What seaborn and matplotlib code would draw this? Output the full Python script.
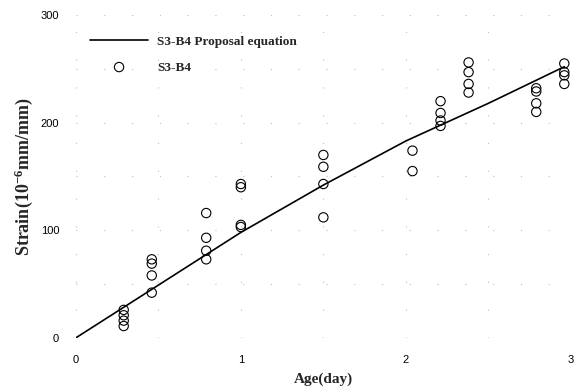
import matplotlib
matplotlib.use("Agg")
import matplotlib.pyplot as plt
import seaborn as sns
import pandas as pd

# Proposal equation curve
eq_age = [0.0, 0.5, 1.0, 1.5, 2.0, 2.5, 2.96]
eq_strain = [0, 49, 98, 142, 183, 218, 252]

# Measured S3-B4 data
obs_age = [0.29, 0.29, 0.29, 0.29,
           0.46, 0.46, 0.46, 0.46,
           0.79, 0.79, 0.79, 0.79,
           1.0, 1.0, 1.0, 1.0,
           1.5, 1.5, 1.5, 1.5,
           2.04, 2.04,
           2.21, 2.21, 2.21, 2.21,
           2.38, 2.38, 2.38, 2.38,
           2.79, 2.79, 2.79, 2.79,
           2.96, 2.96, 2.96, 2.96]
obs_strain = [26, 21, 16, 11,
              73, 69, 58, 42,
              116, 93, 81, 73,
              143, 140, 105, 103,
              170, 159, 143, 112,
              174, 155,
              220, 209, 202, 197,
              256, 247, 236, 228,
              232, 229, 218, 210,
              255, 247, 244, 236]

x_ticks = [0, 1, 2, 3]
y_ticks = [0, 100, 200, 300]

sns.set_theme(style="white")
plt.rcParams["font.family"] = ["Liberation Sans", "DejaVu Sans"]
plt.rcParams["mathtext.fontset"] = "custom"
plt.rcParams["mathtext.rm"] = "Liberation Serif:bold"
plt.rcParams["mathtext.it"] = "Liberation Serif:bold"
plt.rcParams["mathtext.bf"] = "Liberation Serif:bold"

fig = plt.figure(figsize=(5.79, 3.87), dpi=100)
ax = fig.add_axes([0.131, 0.127, 0.855, 0.834])

eq_df = pd.DataFrame({"age": eq_age, "strain": eq_strain})
obs_df = pd.DataFrame({"age": obs_age, "strain": obs_strain})

sns.lineplot(data=eq_df, x="age", y="strain", ax=ax, color="black",
             linewidth=1.2, label="S3-B4 Proposal equation")
sns.scatterplot(data=obs_df, x="age", y="strain", ax=ax, marker="o",
                s=45, facecolor="none", edgecolor="black", linewidth=0.8,
                label="S3-B4", clip_on=False, zorder=3)

ax.set_xlim(0, 3)
ax.set_ylim(0, 300)
ax.set_xticks(x_ticks)
ax.set_yticks(y_ticks)
ax.set_xticks([0.5, 1.5, 2.5], minor=True)
ax.set_yticks([50, 150, 250], minor=True)
ax.tick_params(axis="both", which="both", length=0, pad=12, labelsize=8, colors="black")
for s in ax.spines.values():
    s.set_visible(False)
ax.grid(True, which="both", color="#bdbdbd", linestyle=(0, (1, 24)), linewidth=0.8)

ax.set_xlabel("Age(day)", fontfamily="Liberation Serif", fontweight="bold",
              fontsize=11, labelpad=6)
ax.set_ylabel(r"Strain(10$^{-6}$mm/mm)", fontfamily="Liberation Serif",
              fontweight="bold", fontsize=13, labelpad=4)

leg = ax.legend(loc="upper left", bbox_to_anchor=(0.018, 0.952), borderaxespad=0,
                frameon=False,
                prop={"family": "Liberation Serif", "weight": "bold", "size": 9.5},
                handlelength=4.4, handletextpad=0.7, labelspacing=1.0)

fig.savefig("out.png", dpi=100)
